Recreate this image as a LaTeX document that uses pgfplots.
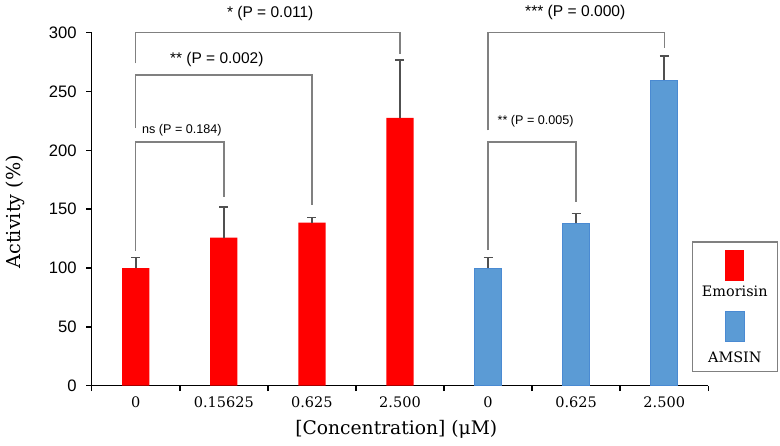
\documentclass[border=0pt]{standalone}
\usepackage{pgfplots}
\pgfplotsset{compat=1.18}
\usepackage{fontspec}
\setmainfont{DejaVu Serif}
\newfontfamily\sansf{Liberation Sans}
\definecolor{embar}{HTML}{FF0000}
\definecolor{ambar}{HTML}{5B9BD5}
\definecolor{amedge}{HTML}{4A8AD2}
\definecolor{errc}{HTML}{505050}
\definecolor{brk}{HTML}{808080}
\begin{document}
\begin{tikzpicture}
\begin{axis}[
  scale only axis, width=616.6pt, height=353pt,
  xmin=-0.5, xmax=6.5, ymin=0, ymax=300,
  clip=false,
  axis x line*=bottom, axis y line*=left,
  axis line style={line width=1.5pt, black},
  tick align=outside,
  major tick length=5.5pt,
  tick style={line width=1.5pt, black},
  xtick={-0.5,0.5,...,6.5}, xticklabels={},
  extra x ticks={0,1,2,3,4,5,6},
  extra x tick labels={0,0.15625,0.625,2.500,0,0.625,2.500},
  extra x tick style={tick style={draw=none}},
  xticklabel style={font=\fontsize{14.5}{16}\selectfont, anchor=base, yshift=-16pt},
  ytick={0,50,...,300},
  /pgf/number format/assume math mode=true,
  yticklabel style={font=\sansf\fontsize{16.6}{18}\selectfont, xshift=-6pt},
  xlabel={[Concentration] (μM)},
  ylabel={Activity (\%)},
  xlabel style={at={(axis description cs:0.494,-0.124)}, anchor=center, font=\fontsize{18.7}{21}\selectfont},
  ylabel style={at={(axis description cs:-0.1244,0.493)}, anchor=center, rotate=0, font=\fontsize{19.2}{21}\selectfont},
  legend style={at={(0.9731,0.4099)}, anchor=north west, draw=brk, line width=1.5pt, inner sep=0pt, row sep=0pt, nodes={inner sep=0pt, text depth=0pt}},
]
% Emorisin bars
\addplot[ybar, bar width=27.3pt, bar shift=0pt, fill=embar, draw=none, forget plot,
  error bars/.cd, y dir=plus, y explicit,
  error bar style={errc, line width=1.6pt},
  error mark options={errc, line width=1.6pt, mark size=4.5pt, rotate=90}]
  coordinates {(0,100) +- (0,9) (1,125.8) +- (0,26) (2,138.5) +- (0,4.5) (3,227.7) +- (0,49)};
% AMSIN bars
\addplot[ybar, bar width=27.3pt, bar shift=0pt, fill=ambar, draw=amedge, line width=1pt, forget plot,
  error bars/.cd, y dir=plus, y explicit,
  error bar style={errc, line width=1.6pt},
  error mark options={errc, line width=1.6pt, mark size=4.5pt, rotate=90}]
  coordinates {(4,100) +- (0,9) (5,138) +- (0,8.5) (6,259.7) +- (0,20.7)};
% significance brackets
\addplot[brk, line width=1.5pt, mark=none, forget plot] coordinates {(0,274) (0,300) (3,300) (3,282)};
\addplot[brk, line width=1.5pt, mark=none, forget plot] coordinates {(0,219) (0,264) (2,264) (2,153.5)};
\addplot[brk, line width=1.5pt, mark=none, forget plot] coordinates {(0,114.7) (0,207.3) (1,207.3) (1,160.6)};
\addplot[brk, line width=1.5pt, mark=none, forget plot] coordinates {(4,217) (4,300) (6,300) (6,286.6)};
\addplot[brk, line width=1.5pt, mark=none, forget plot] coordinates {(4,115.3) (4,207.3) (5,207.3) (5,156.3)};
\node[font=\sansf\fontsize{15.5}{17}\selectfont, inner sep=0pt] at (axis cs:1.527,316.5) {* (P = 0.011)};
\node[font=\sansf\fontsize{15.5}{17}\selectfont, inner sep=0pt] at (axis cs:0.92,277.2) {** (P = 0.002)};
\node[font=\sansf\fontsize{12.6}{14}\selectfont, inner sep=0pt] at (axis cs:0.524,217.3) {ns (P = 0.184)};
\node[font=\sansf\fontsize{15.6}{17}\selectfont, inner sep=0pt] at (axis cs:4.99,316.9) {*** (P = 0.000)};
\node[font=\sansf\fontsize{12.6}{14}\selectfont, inner sep=0pt] at (axis cs:4.54,225) {** (P = 0.005)};
% legend
\addlegendimage{legend image code/.code={
  \fill[embar, draw=none] (-9.5pt,0pt) rectangle (9.5pt,31pt);
  \node[font=\fontsize{14.4}{16}\selectfont, inner sep=0pt, draw=none, text=black] at (0pt,-10pt) {Emorisin};
  \path[draw=none, fill=none] (-42.3pt,-25.8pt) rectangle (41.7pt,39pt);}}
\addlegendentry{\mbox{}}
\addlegendimage{legend image code/.code={
  \fill[ambar, draw=amedge, line width=1pt] (-9.5pt,0pt) rectangle (9.5pt,30pt);
  \node[font=\fontsize{14.4}{16}\selectfont, inner sep=0pt, draw=none, text=black] at (0pt,-15.3pt) {AMSIN};
  \path[draw=none, fill=none] (-42.3pt,-29.7pt) rectangle (41.7pt,35.2pt);}}
\addlegendentry{\mbox{}}
\end{axis}
\pgfresetboundingbox
\path (-91.7pt,-59.3pt) rectangle (688.3pt,385.7pt);
\end{tikzpicture}
\end{document}
